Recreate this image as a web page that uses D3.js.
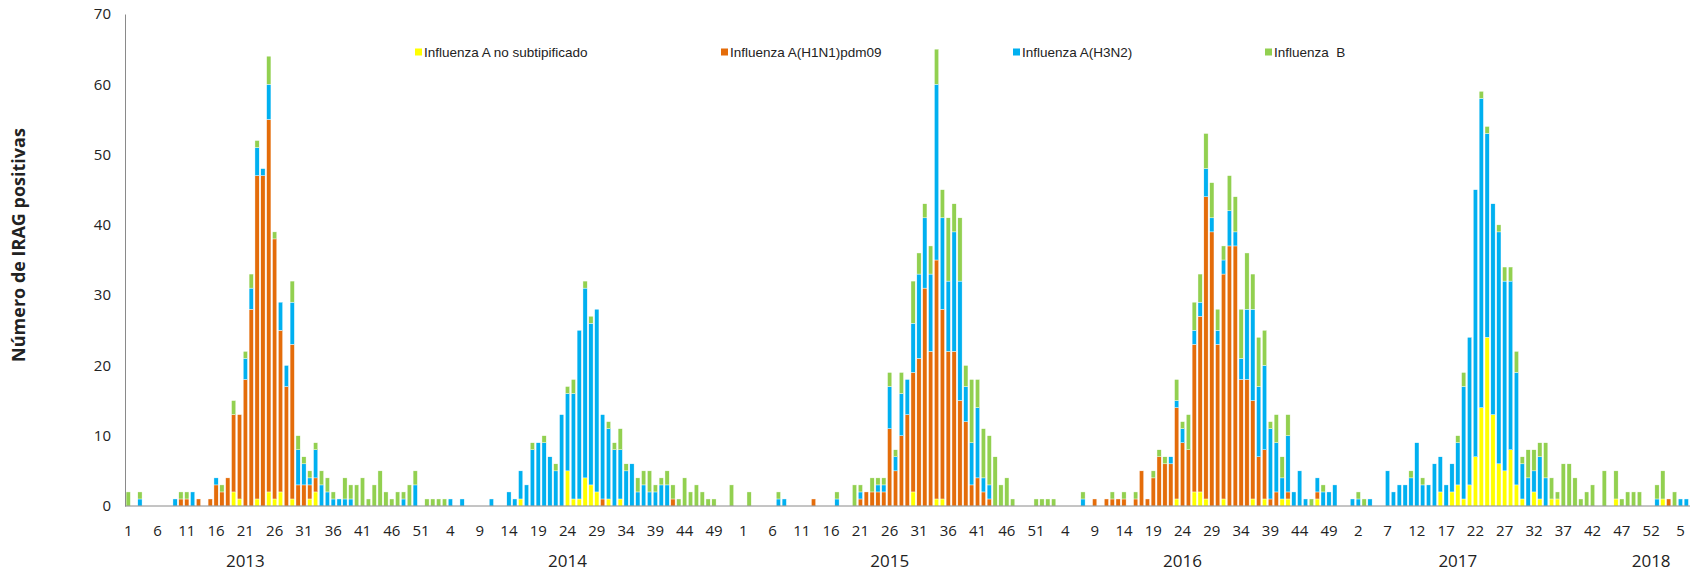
<!DOCTYPE html>
<html>
<head>
<meta charset="utf-8">
<script src="https://cdn.jsdelivr.net/npm/d3@7/dist/d3.min.js"></script>
<style>
  body { margin: 0; background: #fff; }
  .container { width: 1692px; height: 574px; }
  text { font-family: "Open Sans", sans-serif; fill: #222; }
</style>
</head>
<body>
<div class="container"></div>
<script>
// tamaño del grafico
const width = 1692
const height = 574
const margin = { top: 14, bottom: 68, left: 125, right: 2 }

// semanas epidemiologicas por año
const years = [2013, 2014, 2015, 2016, 2017, 2018]
const weeksPerYear = [52, 53, 52, 52, 52, 6]

// series (una por virus), semana a semana
const noSubtip = [
  // 2013
  0,0,0,0,0,0,0,0,0,0, 0,0,0,0,0,0,0,0,2,1, 0,0,1,0,2,1,2,0,1,0, 0,1,2,0,0,0,0,0,0,0, 0,0,0,0,0,0,0,0,0,0, 0,0,
  // 2014
  0,0,0,0,0,0,0,0,0,0, 0,0,0,0,0,1,0,0,0,0, 0,0,0,5,1,1,4,3,2,0, 1,0,1,0,0,0,0,0,0,0, 0,0,0,0,0,0,0,0,0,0, 0,0,0,
  // 2015
  0,0,0,0,0,0,0,0,0,0, 0,0,0,0,0,0,0,0,0,0, 0,0,0,0,0,0,0,0,0,2, 0,0,0,1,1,0,0,0,0,0, 0,0,0,0,0,0,0,0,0,0, 0,0,
  // 2016
  0,0,0,0,0,0,0,0,0,0, 0,0,0,0,0,0,0,0,0,0, 0,0,1,0,0,2,2,1,0,0, 1,0,0,0,0,1,0,1,0,0, 1,1,0,0,0,0,1,0,0,0, 0,0,
  // 2017
  0,0,0,0,0,0,0,0,0,0, 0,0,0,0,0,2,0,2,3,1, 3,7,14,24,13,6,5,8,3,1, 0,2,1,0,1,1,0,0,0,0, 0,0,0,0,0,1,0,0,0,0, 0,0,
  // 2018
  0,1,0,0,0,0
]

const h1n1 = [
  // 2013
  0,0,0,0,0,0,0,0,0,1, 1,0,1,0,1,3,2,4,11,12, 18,28,46,47,53,37,23,17,22,3, 3,2,2,0,0,0,0,0,0,0, 0,0,0,0,0,0,0,0,0,0, 0,0,
  // 2014
  0,0,0,0,0,0,0,0,0,0, 0,0,0,0,0,0,0,0,0,0, 0,0,0,0,0,0,0,0,0,1, 0,0,0,0,0,0,0,0,0,0, 0,1,0,0,0,0,0,0,0,0, 0,0,0,
  // 2015
  0,0,0,0,0,0,0,0,0,0, 0,0,1,0,0,0,0,0,0,0, 1,2,2,2,2,11,5,10,13,17, 21,31,22,34,27,22,22,15,12,3, 4,2,1,0,0,0,0,0,0,0, 0,0,
  // 2016
  0,0,0,0,0,0,0,0,1,0, 1,1,1,1,0,1,5,1,4,7, 6,6,13,9,8,21,25,43,39,23, 32,37,37,18,18,14,7,7,1,2, 0,1,0,0,0,0,1,0,0,0, 0,0,
  // 2017
  0,0,0,0,0,0,0,0,0,0, 0,0,0,0,0,0,0,0,0,0, 0,0,0,0,0,0,0,0,0,0, 0,0,0,0,0,0,0,0,0,0, 0,0,0,0,0,0,0,0,0,0, 0,0,
  // 2018
  0,0,1,0,0,0
]

const h3n2 = [
  // 2013
  0,0,1,0,0,0,0,0,1,0, 0,2,0,0,0,1,0,0,0,0, 3,3,4,1,5,0,4,3,6,5, 3,1,4,3,2,1,1,1,1,0, 0,0,0,0,0,0,0,1,0,3, 0,0,
  // 2014
  0,0,0,1,0,1,0,0,0,0, 1,0,0,2,1,4,3,8,9,9, 7,5,13,11,15,24,27,23,26,12, 10,8,7,5,6,2,3,2,2,3, 3,0,0,0,0,0,0,0,0,0, 0,0,0,
  // 2015
  0,0,0,0,0,0,1,1,0,0, 0,0,0,0,0,0,1,0,0,0, 1,0,0,1,1,6,2,6,5,7, 12,10,11,25,13,10,17,17,5,6, 10,2,2,0,0,0,0,0,0,0, 0,0,
  // 2016
  0,0,0,0,0,0,1,0,0,0, 0,0,0,0,0,0,0,0,0,0, 0,1,1,2,0,2,2,4,2,2, 2,5,2,3,10,13,10,12,10,7, 3,8,2,5,1,0,2,2,2,3, 0,0,
  // 2017
  1,1,0,1,0,0,5,2,3,3, 4,9,3,3,6,5,3,4,6,16, 21,38,44,29,30,33,27,24,16,5, 4,3,6,4,0,0,0,0,0,0, 0,0,0,0,0,0,0,0,0,0, 0,0,
  // 2018
  1,0,0,0,1,1
]

const fluB = [
  // 2013
  2,0,1,0,0,0,0,0,0,1, 1,0,0,0,0,0,1,0,2,0, 1,2,1,0,4,1,0,0,3,2, 1,1,1,2,2,1,0,3,2,3, 4,1,3,5,2,1,2,1,3,2, 0,1,
  // 2014
  1,1,1,0,0,0,0,0,0,0, 0,0,0,0,0,0,0,1,0,1, 0,1,0,1,2,0,1,1,0,0, 1,1,3,1,0,2,2,3,1,1, 2,2,1,4,2,3,2,1,1,0, 0,3,0,
  // 2015
  0,2,0,0,0,0,1,0,0,0, 0,0,0,0,0,0,1,0,0,3, 1,0,2,1,1,2,1,3,0,6, 3,2,4,5,4,9,4,9,3,9, 4,7,7,7,3,4,1,0,0,0, 1,1,
  // 2016
  1,1,0,0,0,0,1,0,0,0, 0,1,0,1,0,1,0,0,1,1, 1,0,3,1,5,4,4,5,5,3, 2,5,5,7,8,5,7,5,1,4, 3,3,0,0,0,1,0,1,0,0, 0,0,
  // 2017
  0,1,1,0,0,0,0,0,0,0, 1,0,1,0,0,0,0,0,1,2, 0,0,1,1,0,1,2,2,3,1, 4,3,2,5,3,1,6,6,4,1, 2,3,0,5,0,4,1,2,2,2, 0,0,
  // 2018
  2,4,0,2,0,0
]

const seriesNames = ["Influenza A no subtipificado", "Influenza A(H1N1)pdm09", "Influenza A(H3N2)", "Influenza  B"]
const seriesColors = ["#FFFF00", "#E46C0A", "#00B0F0", "#92D050"]
const yTicks = [0, 10, 20, 30, 40, 50, 60, 70]

// etiqueta de año colocada bajo una semana concreta
const yearLabelAt = ["2013-21", "2014-24", "2015-26", "2016-24", "2017-19", "2017-52"]

// categorias: año-semana
const categories = []
years.forEach((yr, j) => {
  for (let w = 1; w <= weeksPerYear[j]; w++) categories.push({ key: yr + "-" + w, year: yr, week: w })
})

const keys = ["s0", "s1", "s2", "s3"]
const rows = categories.map((c, i) => ({
  key: c.key, week: c.week,
  s0: noSubtip[i], s1: h1n1[i], s2: h3n2[i], s3: fluB[i]
}))

// svg
const svg = d3.select(".container").append("svg").attr("width", width).attr("height", height)
const elementGroup = svg.append("g").attr("id", "elementGroup")
const axisGroup = svg.append("g").attr("id", "axisGroup")

// escalas
const x = d3.scaleBand()
  .domain(categories.map(c => c.key))
  .range([margin.left - 0.5, width - margin.right])
  .padding(0.27)
const y = d3.scaleLinear().domain([0, 70]).range([height - margin.bottom, margin.top])

// barras apiladas
const stacked = d3.stack().keys(keys)(rows)

elementGroup.selectAll("g.serie").data(stacked)
  .join("g")
  .attr("class", "serie")
  .attr("fill", (d, i) => seriesColors[i])
  .selectAll("rect")
  .data(d => d.filter(p => p[1] > p[0]))
  .join("rect")
  .attr("x", d => x(d.data.key))
  .attr("y", d => y(d[1]))
  .attr("width", x.bandwidth())
  .attr("height", d => y(d[0]) - y(d[1]))
  .attr("stroke", "#fff")
  .attr("stroke-width", 0.4)

// ejes
const xAxis = d3.axisBottom(x)
  .tickValues(categories.filter((c, i) => i % 5 === 0).map(c => c.key))
  .tickFormat(k => k.split("-")[1])
  .tickSize(0)
  .tickPadding(19)
const yAxis = d3.axisLeft(y).tickValues(yTicks).tickSize(0).tickPadding(14)

const xAxisGroup = axisGroup.append("g").attr("transform", `translate(0, ${y(0)})`).call(xAxis)
const yAxisGroup = axisGroup.append("g").attr("transform", `translate(${margin.left}, 0)`).call(yAxis)

axisGroup.selectAll(".domain").attr("stroke", "#8a8a8a")
xAxisGroup.select(".domain").attr("d", `M${margin.left},0H${width - margin.right}`)
axisGroup.selectAll(".tick text").style("font-family", "'Open Sans', sans-serif").style("font-size", "15px").attr("fill", "#222")

// años
svg.append("g").selectAll("text").data(yearLabelAt)
  .join("text")
  .attr("x", k => x(k) + x.bandwidth() / 2)
  .attr("y", 567)
  .attr("text-anchor", "middle")
  .style("font-size", "17px")
  .text(k => k.split("-")[0] === "2017" && k.endsWith("-52") ? "2018" : k.split("-")[0])

// titulo eje y
svg.append("text")
  .attr("transform", "translate(25, 245) rotate(-90)")
  .attr("text-anchor", "middle")
  .style("font-size", "18px")
  .style("font-weight", 700)
  .text("Número de IRAG positivas")

// leyenda
const legendX = [415, 721, 1013, 1265]
const legend = svg.append("g").attr("id", "legend")
  .selectAll("g").data(seriesNames)
  .join("g")
  .attr("transform", (d, i) => `translate(${legendX[i]}, 52)`)
legend.append("rect").attr("x", 0).attr("y", -3.5).attr("width", 7).attr("height", 7).attr("fill", (d, i) => seriesColors[i])
legend.append("text")
  .attr("x", 9)
  .attr("dy", "0.35em")
  .style("font-family", "'Liberation Sans', Arial, sans-serif")
  .style("font-size", "13.5px")
  .style("white-space", "pre")
  .attr("fill", "#333")
  .text(d => d)
</script>
</body>
</html>
